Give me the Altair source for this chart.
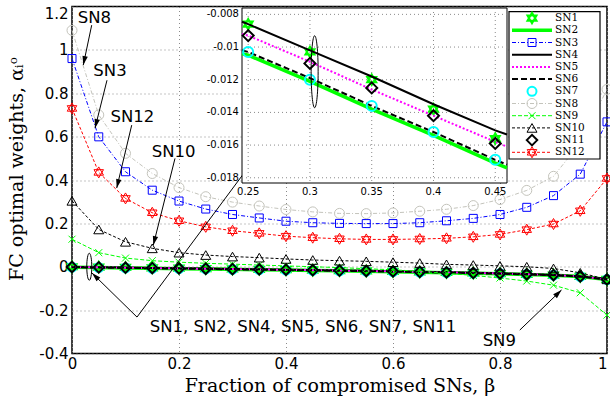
import math
import altair as alt
import pandas as pd

# ---------------- data ----------------
beta = [0.0, 0.05, 0.1, 0.15, 0.2, 0.25, 0.3, 0.35, 0.4, 0.45, 0.5,
        0.55, 0.6, 0.65, 0.7, 0.75, 0.8, 0.85, 0.9, 0.95, 1.0]

sn1 = [0.0000, -0.0017, -0.0034, -0.0051, -0.0068, -0.0086, -0.0103, -0.0120, -0.0138, -0.0156, -0.0175,
       -0.0195, -0.0216, -0.0238, -0.0262, -0.0287, -0.0315, -0.0347, -0.0385, -0.0445, -0.0585]
sn2 = [-0.0022, -0.0038, -0.0055, -0.0071, -0.0088, -0.0105, -0.0121, -0.0138, -0.0154, -0.0171, -0.0188,
       -0.0207, -0.0227, -0.0248, -0.0271, -0.0296, -0.0323, -0.0354, -0.0391, -0.0451, -0.0591]
sn3 = [0.960, 0.599, 0.438, 0.353, 0.303, 0.266, 0.241, 0.225, 0.210, 0.203, 0.200,
       0.199, 0.199, 0.203, 0.212, 0.223, 0.241, 0.274, 0.328, 0.427, 0.668]
sn4 = [-0.0006, -0.0022, -0.0038, -0.0054, -0.0070, -0.0086, -0.0102, -0.0118, -0.0135, -0.0151, -0.0168,
       -0.0187, -0.0207, -0.0229, -0.0252, -0.0277, -0.0305, -0.0338, -0.0377, -0.0440, -0.0580]
sn5 = [-0.0013, -0.0029, -0.0045, -0.0061, -0.0077, -0.0093, -0.0109, -0.0126, -0.0142, -0.0158, -0.0176,
       -0.0195, -0.0215, -0.0237, -0.0260, -0.0285, -0.0313, -0.0345, -0.0383, -0.0445, -0.0583]
sn6 = [-0.0021, -0.0037, -0.0054, -0.0070, -0.0086, -0.0103, -0.0119, -0.0136, -0.0152, -0.0169, -0.0187,
       -0.0206, -0.0226, -0.0247, -0.0270, -0.0295, -0.0322, -0.0353, -0.0390, -0.0450, -0.0590]
sn7 = [-0.0021, -0.0037, -0.0054, -0.0070, -0.0087, -0.0103, -0.0120, -0.0136, -0.0152, -0.0169, -0.0187,
       -0.0206, -0.0226, -0.0247, -0.0270, -0.0295, -0.0322, -0.0353, -0.0390, -0.0450, -0.0590]
sn8 = [1.090, 0.700, 0.523, 0.430, 0.365, 0.323, 0.298, 0.280, 0.264, 0.253, 0.246,
       0.245, 0.248, 0.256, 0.265, 0.282, 0.310, 0.352, 0.417, 0.570, 0.818]
sn9 = [0.127, 0.065, 0.040, 0.028, 0.021, 0.016, 0.012, 0.008, 0.004, 0.000, -0.004,
       -0.009, -0.014, -0.021, -0.030, -0.040, -0.052, -0.066, -0.085, -0.120, -0.223]
sn10 = [0.304, 0.172, 0.115, 0.085, 0.065, 0.054, 0.047, 0.042, 0.036, 0.031, 0.028,
        0.025, 0.021, 0.017, 0.011, 0.008, 0.004, 0.000, -0.008, -0.028, -0.058]
sn11 = [-0.0012, -0.0028, -0.0044, -0.0061, -0.0077, -0.0093, -0.0110, -0.0125, -0.0142, -0.0159, -0.0177,
        -0.0196, -0.0216, -0.0238, -0.0261, -0.0286, -0.0314, -0.0346, -0.0384, -0.0446, -0.0584]
sn12 = [0.730, 0.435, 0.315, 0.249, 0.212, 0.184, 0.166, 0.154, 0.141, 0.134, 0.129,
        0.126, 0.126, 0.128, 0.131, 0.138, 0.149, 0.171, 0.197, 0.258, 0.407]

names = ["SN%d" % i for i in range(1, 13)]
series_vals = [sn1, sn2, sn3, sn4, sn5, sn6, sn7, sn8, sn9, sn10, sn11, sn12]

# inset (zoom) readings, including where the lines meet the inset frame
inset_beta = [0.245, 0.25, 0.30, 0.35, 0.40, 0.45, 0.4595]
inset_sn2 = [-0.0104, -0.0105, -0.0121, -0.0138, -0.0154, -0.0171, -0.0174]
inset_sn4 = [-0.00845, -0.0086, -0.0102, -0.0118, -0.0135, -0.0151, -0.01535]
inset_sn5 = [-0.0092, -0.0093, -0.0109, -0.0126, -0.0142, -0.0158, -0.0161]
inset_sn6 = [-0.0102, -0.0103, -0.0119, -0.0136, -0.0152, -0.0169, -0.0172]
inset_xticks = [0.25, 0.30, 0.35, 0.40, 0.45]
inset_xlabels = ["0.25", "0.3", "0.35", "0.4", "0.45"]
inset_yticks = [-0.008, -0.010, -0.012, -0.014, -0.016, -0.018]
inset_ylabels = ["-0.008", "-0.01", "-0.012", "-0.014", "-0.016", "-0.018"]

x_ticks = [0, 0.2, 0.4, 0.6, 0.8, 1]
y_ticks = [-0.4, -0.2, 0, 0.2, 0.4, 0.6, 0.8, 1, 1.2]

# annotations (data coordinates of the main axes)
ann_text = ["SN8", "SN3", "SN12", "SN10", "SN1, SN2, SN4, SN5, SN6, SN7, SN11", "SN9"]
ann_x = [0.0417, 0.071, 0.113, 0.190, 0.4318, 0.7987]
ann_y = [1.145, 0.903, 0.691, 0.530, -0.2765, -0.341]
arr_x0 = [0.0368, 0.0654, 0.1116, 0.1925, 0.1215, 0.1215, 0.837]
arr_y0 = [1.114, 0.860, 0.653, 0.4995, -0.232, -0.232, -0.292]
arr_x1 = [0.0211, 0.043, 0.0836, 0.152, 0.0374, 0.4505, 0.915]
arr_y1 = [0.930, 0.639, 0.363, 0.100, -0.029, 0.860, -0.107]

# ---------------- layout / styles ----------------
W, H = 535, 347
XD, YD = [0, 1], [-0.4, 1.2]
IX0, IX1, IY0, IY1 = 170, 435, 1.5, 176.5          # inset frame (px, inside plot)
LX0, LX1, LY0, LY1 = 437, 528, 5.2, 152.5          # legend frame (px)

HEX = "M0,-1L0.866,0.5L-0.866,0.5Z M0,1L0.866,-0.5L-0.866,-0.5Z"
XMARK = "M-1,-1L1,1M-1,1L1,-1"
ARROW = "M0,0L0.3,1L-0.3,1Z"


def ellipse(r):
    return "M0,-1A%g,1,0,1,1,0,1A%g,1,0,1,1,0,-1Z" % (r, r)


GREEN, BLUE, RED, MAG, CYAN, GRAY = "#00ff00", "#0000ff", "#ff0000", "#ff00ff", "#00ffff", "#c4c4bc"
styles = {
    "SN1": dict(shape=HEX, mc=GREEN, size=110, sw=2),
    "SN2": dict(line=(GREEN, 3.5, None)),
    "SN3": dict(line=(BLUE, 1, [4, 2, 1, 2]), shape="square", mc=BLUE, size=64, sw=1),
    "SN4": dict(line=("black", 2, None)),
    "SN5": dict(line=(MAG, 2, [2, 2])),
    "SN6": dict(line=("black", 2, [6, 3])),
    "SN7": dict(shape="circle", mc=CYAN, size=81, sw=2),
    "SN8": dict(line=(GRAY, 1, [4, 2, 1, 2]), shape="circle", mc=GRAY, size=100, sw=1),
    "SN9": dict(line=(GREEN, 1, [4, 2]), shape=XMARK, mc=GREEN, size=49, sw=1),
    "SN10": dict(line=("black", 1, [3, 2]), shape="triangle-up", mc="black", size=100, sw=1),
    "SN11": dict(shape="diamond", mc="black", size=110, sw=2),
    "SN12": dict(line=(RED, 1, [3, 2]), shape=HEX, mc=RED, size=121, sw=1),
}

xs = alt.Scale(domain=XD, nice=False, zero=False)
ys = alt.Scale(domain=YD, nice=False, zero=False)

common_axis = dict(grid=True, gridColor="#8a8a8a", gridDash=[1, 3], gridWidth=1, domain=False,
                   ticks=False, labelFont="DejaVu Sans", labelFontSize=15, labelColor="black",
                   labelFlush=False, labelOverlap=False, labelBound=False,
                   labelExpr="'' + datum.value", titleFont="DejaVu Serif", titleFontSize=19,
                   titleFontWeight="normal", titleColor="black")
x_axis = alt.Axis(values=x_ticks, labelPadding=3, title="Fraction of compromised SNs, β",
                  labelAlign={"condition": {"test": "datum.value == 1", "value": "right"},
                              "value": "center"},
                  titleX=W / 2, titleY=38, titleAlign="center", titleBaseline="alphabetic",
                  **common_axis)
y_axis = alt.Axis(values=y_ticks, labelPadding=4, title="FC optimal weights, αᵢᵒ",
                  labelBaseline={"condition": {"test": "datum.value == 1.2", "value": "top"},
                                 "value": "middle"},
                  titleAngle=270, titleX=-50, titleY=162, titleAlign="center",
                  titleBaseline="alphabetic", **common_axis)


def MX(f="beta"):
    return alt.X(f + ":Q", scale=xs, axis=x_axis)


def MY(f="value"):
    return alt.Y(f + ":Q", scale=ys, axis=y_axis)


main_df = pd.DataFrame([{"beta": b, "value": v, "series": n}
                        for n, vals in zip(names, series_vals) for b, v in zip(beta, vals)])

main_layers = []
for n in names:
    st = styles[n]
    src = alt.Chart(main_df).transform_filter(alt.datum.series == n)
    if "line" in st:
        c, w, d = st["line"]
        kw = dict(color=c, strokeWidth=w)
        if d:
            kw["strokeDash"] = d
        main_layers.append(src.mark_line(**kw).encode(x=MX(), y=MY(), order="beta:Q"))
    if "shape" in st:
        main_layers.append(src.mark_point(shape=st["shape"], size=st["size"], color=st["mc"],
                                          strokeWidth=st["sw"], filled=False, opacity=1)
                           .encode(x=MX(), y=MY()))


def px(bx, vy):
    return bx * W, (YD[1] - vy) / (YD[1] - YD[0]) * H


angles = []
for a, b, c, d in zip(arr_x0, arr_y0, arr_x1, arr_y1):
    p0, p1 = px(a, b), px(c, d)
    angles.append(math.degrees(math.atan2(p1[0] - p0[0], -(p1[1] - p0[1]))) % 360)

arr_df = pd.DataFrame({"x0": arr_x0, "y0": arr_y0, "x1": arr_x1, "y1": arr_y1, "ang": angles})
ann_df = pd.DataFrame({"t": ann_text, "x": ann_x, "y": ann_y})

main_layers.append(alt.Chart(arr_df).mark_rule(color="black", strokeWidth=1).encode(
    x=MX("x0"), y=MY("y0"), x2="x1:Q", y2="y1:Q"))
main_layers.append(alt.Chart(arr_df).mark_point(shape=ARROW, size=324, filled=True, color="black",
                                                opacity=1).encode(
    x=MX("x1"), y=MY("y1"), angle=alt.Angle("ang:Q", scale=None)))
main_layers.append(alt.Chart(ann_df).mark_text(font="DejaVu Sans", fontSize=16.5, color="black",
                                               align="center", baseline="middle").encode(
    x=MX("x"), y=MY("y"), text="t:N"))
main_layers.append(alt.Chart(pd.DataFrame({"x": [0.0323], "y": [0.0]})).mark_point(
    shape=ellipse(0.185), size=729, color="black", strokeWidth=1, filled=False, opacity=1).encode(
    x=MX("x"), y=MY("y")))

main = alt.layer(*main_layers)

# ---------------- inset ----------------
ixs = alt.Scale(domain=[inset_beta[0], inset_beta[-1]], range=[IX0, IX1], nice=False, zero=False)
iys = alt.Scale(domain=[-0.01832, -0.00761], range=[IY1, IY0], nice=False, zero=False)


def IX(f="beta"):
    return alt.X(f + ":Q", scale=ixs, axis=None)


def IY(f="value"):
    return alt.Y(f + ":Q", scale=iys, axis=None)


one = pd.DataFrame({"a": [0]})
inset_layers = [
    alt.Chart(one).mark_rect(fill="white", stroke="black", strokeWidth=1).encode(
        x=alt.value(IX0), x2=alt.value(IX1), y=alt.value(IY0), y2=alt.value(IY1)),
    alt.Chart(pd.DataFrame({"t": inset_xticks})).mark_rule(color="#8a8a8a", strokeDash=[1, 3]).encode(
        x=IX("t"), y=alt.value(IY0), y2=alt.value(IY1)),
    alt.Chart(pd.DataFrame({"t": inset_yticks})).mark_rule(color="#8a8a8a", strokeDash=[1, 3]).encode(
        y=IY("t"), x=alt.value(IX0), x2=alt.value(IX1)),
    alt.Chart(pd.DataFrame({"t": inset_xticks, "l": inset_xlabels})).mark_text(
        font="DejaVu Sans", fontSize=10, color="black", baseline="top").encode(
        x=IX("t"), y=alt.value(IY1 + 4), text="l:N"),
    alt.Chart(pd.DataFrame({"t": inset_yticks, "l": inset_ylabels})).mark_text(
        font="DejaVu Sans", fontSize=10, color="black", align="right", baseline="middle").encode(
        y=IY("t"), x=alt.value(IX0 - 3), text="l:N"),
]

inset_lines = {"SN2": inset_sn2, "SN4": inset_sn4, "SN5": inset_sn5, "SN6": inset_sn6}
inset_pts = {"SN1": sn1[5:10], "SN7": sn7[5:10], "SN11": sn11[5:10]}
inset_size = {"SN1": 110, "SN7": 100, "SN11": 121}
for n in ["SN1", "SN2", "SN4", "SN5", "SN6", "SN7", "SN11"]:
    st = styles[n]
    if n in inset_lines:
        c, w, d = st["line"]
        kw = dict(color=c, strokeWidth=w)
        if d:
            kw["strokeDash"] = d
        df = pd.DataFrame({"beta": inset_beta, "value": inset_lines[n]})
        inset_layers.append(alt.Chart(df).mark_line(**kw).encode(x=IX(), y=IY(), order="beta:Q"))
    else:
        df = pd.DataFrame({"beta": beta[5:10], "value": inset_pts[n]})
        inset_layers.append(alt.Chart(df).mark_point(shape=st["shape"], size=inset_size[n],
                                                     color=st["mc"], strokeWidth=st["sw"],
                                                     filled=False, opacity=1).encode(x=IX(), y=IY()))
inset_layers.append(alt.Chart(pd.DataFrame({"x": [0.3038], "y": [-0.01151]})).mark_point(
    shape=ellipse(0.097), size=5184, color="black", strokeWidth=1, filled=False, opacity=1).encode(
    x=IX("x"), y=IY("y")))

inset = alt.layer(*inset_layers)

# ---------------- legend ----------------
lys = alt.Scale(domain=[0, 11], range=[11.6, 145.8], nice=False, zero=False)
leg_df = pd.DataFrame({"series": names, "row": list(range(12))})
leg_layers = [alt.Chart(one).mark_rect(fill="white", stroke="black", strokeWidth=1.2).encode(
    x=alt.value(LX0), x2=alt.value(LX1), y=alt.value(LY0), y2=alt.value(LY1))]
for n in names:
    st = styles[n]
    src = alt.Chart(leg_df).transform_filter(alt.datum.series == n)
    if "line" in st:
        c, w, d = st["line"]
        kw = dict(color=c, strokeWidth=w)
        if d:
            kw["strokeDash"] = d
        leg_layers.append(src.mark_rule(**kw).encode(
            y=alt.Y("row:Q", scale=lys, axis=None), x=alt.value(LX0 + 3), x2=alt.value(LX0 + 43)))
    if "shape" in st:
        leg_layers.append(src.mark_point(shape=st["shape"], size=st["size"], color=st["mc"],
                                         strokeWidth=st["sw"], filled=False, opacity=1).encode(
            y=alt.Y("row:Q", scale=lys, axis=None), x=alt.value(LX0 + 23)))
leg_layers.append(alt.Chart(leg_df).mark_text(font="DejaVu Serif", fontSize=10.5, color="black",
                                              align="left", baseline="middle").encode(
    y=alt.Y("row:Q", scale=lys, axis=None), x=alt.value(LX0 + 46), text="series:N"))
legend = alt.layer(*leg_layers)

chart = (alt.layer(main, inset, legend)
         .resolve_scale(x="independent", y="independent")
         .properties(width=W, height=H, autosize=alt.AutoSizeParams(type="none"),
                     padding={"left": 72, "top": 6.5, "right": 3, "bottom": 47.5},
                     background="white")
         .configure_view(stroke="black", strokeWidth=1.5, fill="white"))

chart.save("out.html", embed_options={"renderer": "svg", "actions": False})
